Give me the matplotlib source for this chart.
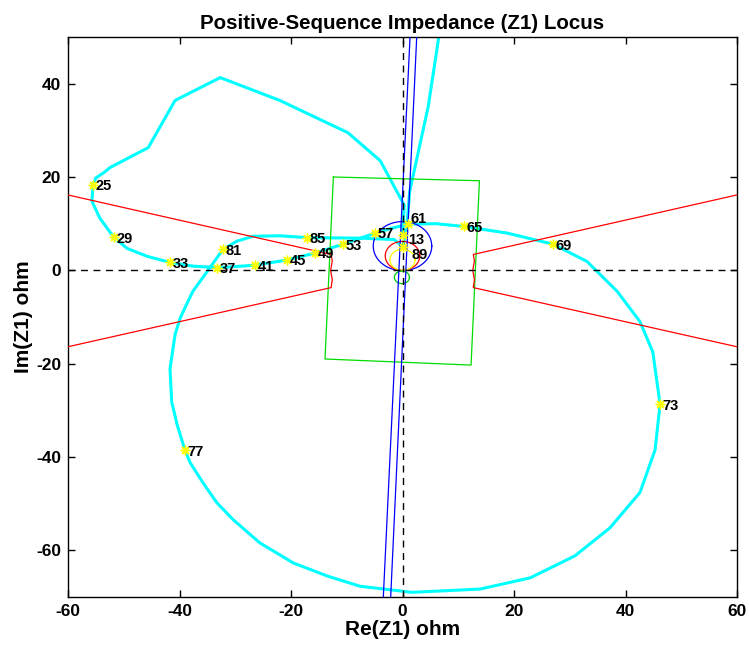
import numpy as np
import matplotlib
matplotlib.use("Agg")
import matplotlib.pyplot as plt

plt.rcParams['font.family'] = ['Liberation Sans', 'DejaVu Sans']
plt.rcParams['axes.unicode_minus'] = False

# ---- Z1 trajectory (R, X) in ohm ----
traj_R = [0.0, 0.3, -4.0, -9.8, -22.0, -32.7, -40.8, -45.6, -52.5, -53.5, -55.0, -55.5,
          -55.7, -54.3, -51.8, -49.4, -45.8, -41.7, -37.6, -33.3, -30.0, -26.5, -20.8,
          -15.7, -10.7, -7.5, -4.9, -2.0, 1.0, 6.0, 11.0, 18.7, 27.0, 33.1, 38.5, 42.6,
          44.9, 46.2, 45.3, 42.6, 37.2, 30.9, 22.9, 13.9, 1.7, -7.6, -13.5, -19.6, -25.6,
          -30.4, -33.3, -35.8, -38.1, -39.0, -40.4, -41.4, -41.7, -40.8, -39.9, -38.5,
          -37.6, -35.0, -32.2, -29.7, -26.8, -22.0, -17.1, -7.6, -1.5, 0.1, 0.8, 1.3, 4.6,
          6.7, 8.0]
traj_X = [7.6, 14.0, 23.5, 29.5, 36.4, 41.3, 36.4, 26.3, 22.0, 21.0, 19.8, 18.3,
          14.8, 11.2, 7.1, 4.7, 3.0, 1.7, 0.9, 0.6, 0.8, 1.1, 2.2,
          3.7, 5.6, 6.9, 8.0, 9.0, 9.9, 10.0, 9.4, 8.0, 5.6, 1.9, -4.5, -11.0,
          -17.5, -28.7, -38.5, -47.6, -55.2, -61.2, -65.9, -68.3, -69.0, -67.7, -65.5, -62.7, -58.4,
          -53.4, -49.8, -45.5, -41.2, -38.6, -33.2, -28.2, -21.1, -13.8, -10.3, -6.7,
          -4.5, -0.2, 4.5, 6.25, 7.3, 7.4, 7.0, 6.9, 6.6, 5.0, 10.0, 17.0, 35.0,
          51.5, 62.0]

# ---- labelled samples ----
lab_text = ['13', '25', '29', '33', '37', '41', '45', '49', '53', '57', '61', '65',
            '69', '73', '77', '81', '85', '89']
lab_R = [0.0, -55.5, -51.8, -41.7, -33.3, -26.5, -20.8, -15.7, -10.7, -4.9, 1.0, 11.0,
         27.0, 46.2, -39.0, -32.2, -17.1, 0.1]
lab_X = [7.6, 18.3, 7.1, 1.7, 0.6, 1.1, 2.2, 3.7, 5.6, 8.0, 9.9, 9.4,
         5.6, -28.7, -38.6, 4.5, 7.0, 5.0]

# ---- quadrilateral characteristic (green) ----
quad_R = [-12.4, 13.8, 12.3, -13.9, -12.4]
quad_X = [20.0, 19.2, -20.3, -19.0, 20.0]

# ---- blinder characteristic (red) ----
blL_R = [-75.0, -12.8, -12.6, -12.9, -12.6, -12.8, -75.0]
blL_X = [20.2, 3.4, 2.0, 0.0, -2.0, -3.7, -20.4]
blR_R = [75.0, 12.7, 12.9, 12.6, 12.9, 12.7, 75.0]
blR_X = [20.2, 3.4, 2.0, 0.0, -2.0, -3.7, -20.4]

# ---- circles (centre R, centre X, radius, colour) ----
circ_cR = [0.0, 0.0, 0.0, -0.1]
circ_cX = [5.2, 3.1, 2.25, -1.5]
circ_r = [5.25, 3.1, 2.25, 1.35]
circ_col = ['#0000ff', '#ff0000', '#ffff00', '#00cc00']

# ---- directional lines (blue): R at X=-70 and X=50 ----
dir_R_bottom = [-3.44, -2.12]
dir_R_top = [1.35, 2.55]
dir_X = [-70.0, 50.0]

fig = plt.figure(figsize=(7.49, 6.52), dpi=100)
ax = fig.add_axes([68/749, 1-597/652, (737-68)/749, (597-37)/652])

ax.plot(traj_R, traj_X, color='#00ffff', lw=2.2, zorder=2)

ax.plot(quad_R, quad_X, color='#00dd00', lw=0.9, zorder=3)
ax.plot(blL_R, blL_X, color='#ff0000', lw=0.9, zorder=3)
ax.plot(blR_R, blR_X, color='#ff0000', lw=0.9, zorder=3)

th = np.linspace(0, 2*np.pi, 200)
for cR, cX, r, c in zip(circ_cR, circ_cX, circ_r, circ_col):
    ax.plot(cR + r*np.cos(th), cX + r*np.sin(th), color=c, lw=0.9, zorder=3)

for rb, rt in zip(dir_R_bottom, dir_R_top):
    ax.plot([rb, rt], dir_X, color='#0000ff', lw=0.9, zorder=3)

ax.axhline(0, color='black', lw=1.0, ls=(0, (5, 4)), zorder=4)
ax.axvline(0, color='black', lw=1.0, ls=(0, (5, 4)), zorder=4)

ax.plot(lab_R, lab_X, ls='none', marker=(8, 2, 0), ms=7, mew=1.0, color='#ffff00', zorder=5)

# text offsets (points) for the crowded labels near the origin
special_off = {'61': (1.5, 4.0), '13': (4.0, -4.0), '89': (6.0, -5.5)}
for t, r, x in zip(lab_text, lab_R, lab_X):
    off = special_off.get(t, (2, -1))
    ax.annotate(t, (r, x), xytext=off, textcoords='offset points', ha='left',
                va='center', fontsize=10.5, fontweight='bold', color='black', zorder=6)

ax.set_xlim(-60, 60)
ax.set_ylim(-70, 50)
ax.set_xticks(np.arange(-60, 61, 20))
ax.set_yticks(np.arange(-60, 41, 20))
ax.tick_params(direction='in', top=True, right=True, length=5, width=1,
               labelsize=12.5, pad=5)
for lbl in ax.get_xticklabels() + ax.get_yticklabels():
    lbl.set_fontweight('bold')
for s in ax.spines.values():
    s.set_linewidth(1.0)

ax.set_title('Positive-Sequence Impedance (Z1) Locus', fontsize=14.8, fontweight='bold', pad=6)
ax.set_xlabel('Re(Z1) ohm', fontsize=15, fontweight='bold', labelpad=1)
ax.set_ylabel('Im(Z1) ohm', fontsize=15, fontweight='bold', labelpad=2)

fig.savefig('out.png', dpi=100)
